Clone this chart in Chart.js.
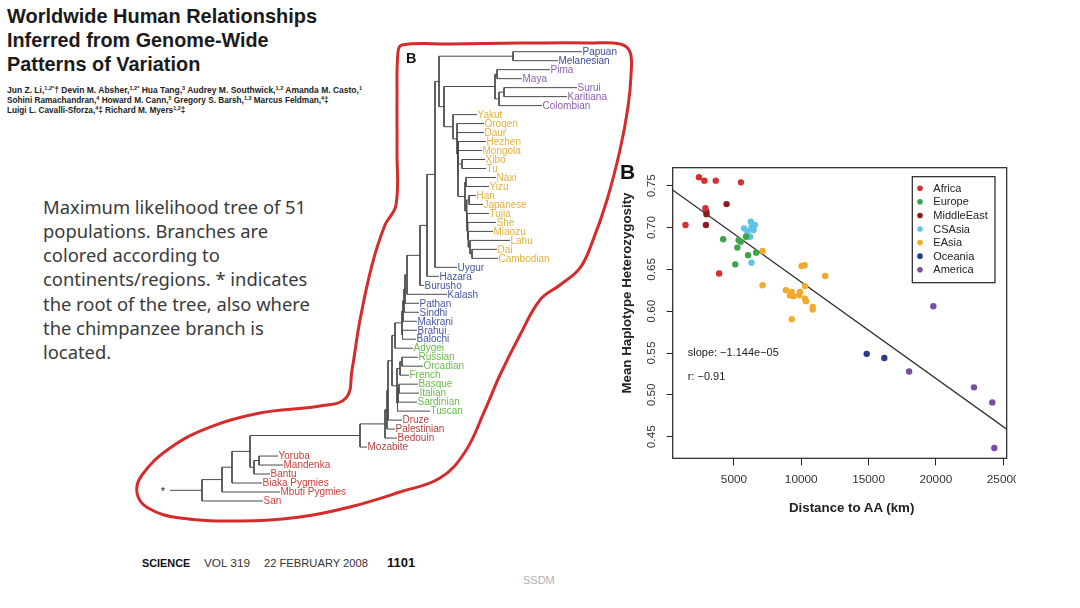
<!DOCTYPE html>
<html>
<head>
<meta charset="utf-8">
<script src="https://cdn.jsdelivr.net/npm/chart.js@4.4.1/dist/chart.umd.min.js"></script>
<style>
  body { margin: 0; background: #fff; }
  #page { position: relative; width: 1080px; height: 608px; overflow: hidden; background: #fff; font-family: "Liberation Sans", Arial, sans-serif; }
  .abs { position: absolute; white-space: nowrap; }
  .fit { display: inline-block; transform-origin: 0 50%; }
  .title { font-weight: bold; font-size: 21px; line-height: 24.3px; color: #1a1a1a; left: 7px; }
  .auth { font-size: 8.4px; line-height: 10px; color: #222; left: 7px; font-weight: bold; }
  .auth sup { font-size: 5.5px; vertical-align: 3px; line-height: 0; }
  .para { font-family: "Noto Sans", "Open Sans", sans-serif; font-size: 16.5px; line-height: 24.3px; color: #3a3a3a; left: 43px; }
  .foot { font-size: 11.5px; line-height: 14px; top: 556px; color: #333; }
</style>
</head>
<body>
<div id="page">
  <span class="abs fit title" id="t1" style="top:4px">Worldwide Human Relationships</span>
  <span class="abs fit title" id="t2" style="top:28px">Inferred from Genome-Wide</span>
  <span class="abs fit title" id="t3" style="top:52px">Patterns of Variation</span>

  <span class="abs fit auth" id="a1" style="top:85px">Jun Z. Li,<sup>1,2*</sup>† Devin M. Absher,<sup>1,2*</sup> Hua Tang,<sup>3</sup> Audrey M. Southwick,<sup>1,2</sup> Amanda M. Casto,<sup>1</sup></span>
  <span class="abs fit auth" id="a2" style="top:95px">Sohini Ramachandran,<sup>4</sup> Howard M. Cann,<sup>5</sup> Gregory S. Barsh,<sup>1,3</sup> Marcus Feldman,<sup>4</sup>‡</span>
  <span class="abs fit auth" id="a3" style="top:105px">Luigi L. Cavalli-Sforza,<sup>4</sup>‡ Richard M. Myers<sup>1,2</sup>‡</span>

  <div class="abs para" id="p1" style="top:194.5px">Maximum likelihood tree of 51</div>
  <div class="abs para" style="top:218.8px">populations. Branches are</div>
  <div class="abs para" style="top:243.1px">colored according to</div>
  <div class="abs para" style="top:267.4px">continents/regions. * indicates</div>
  <div class="abs para" style="top:291.7px">the root of the tree, also where</div>
  <div class="abs para" style="top:316px">the chimpanzee branch is</div>
  <div class="abs para" style="top:340.3px">located.</div>

  <canvas id="treeChart" width="510" height="500" style="position:absolute;left:130px;top:30px"></canvas>
  <div class="abs" style="left:406px;top:50px;font-weight:bold;font-size:14.5px;color:#111">B</div>

  <div class="abs" style="left:620px;top:160px;font-weight:bold;font-size:21px;color:#111">B</div>
  <div style="position:absolute;left:610px;top:150px;width:406px;height:380px;overflow:hidden">
    <canvas id="scatterChart" width="440" height="380"></canvas>
  </div>
  <div class="abs" style="left:477px;top:285px;width:300px;height:16px;line-height:16px;text-align:center;font-weight:bold;font-size:13.3px;color:#222;transform:rotate(-90deg)">Mean Haplotype Heterozygosity</div>
  <div class="abs" style="left:751.7px;top:499.7px;width:200px;line-height:16px;text-align:center;font-weight:bold;font-size:13.3px;color:#222">Distance to AA (km)</div>

  <span class="abs fit foot" id="f1" style="left:141.7px;font-weight:bold;color:#111">SCIENCE</span>
  <span class="abs fit foot" id="f2" style="left:204px">VOL 319</span>
  <span class="abs fit foot" id="f3" style="left:264.3px">22 FEBRUARY 2008</span>
  <span class="abs fit foot" id="f4" style="left:386.7px;font-weight:bold;font-size:12.5px;color:#111">1101</span>
  <div class="abs" style="left:523px;top:574px;font-size:11px;color:#b0b0b0">SSDM</div>
</div>

<script>
// ---------- scatter data (Distance to AA in km, mean haplotype heterozygosity)
const regions = ['Africa', 'Europe', 'MiddleEast', 'CSAsia', 'EAsia', 'Oceania', 'America'];
const regionColors = ['#d62f2f', '#3aa54a', '#8c1c1c', '#5ec3e6', '#f2aa2a', '#283c8c', '#7a4e9e'];
const xTicks = [5000, 10000, 15000, 20000, 25000];
const yTicks = [0.45, 0.50, 0.55, 0.60, 0.65, 0.70, 0.75];

const africaX = [2400, 2800, 3650, 5520, 1400, 3900, 2880];
const africaY = [0.760, 0.756, 0.756, 0.754, 0.703, 0.645, 0.723];
const europeX = [4200, 5350, 5250, 5900, 6050, 6650, 5100, 5500];
const europeY = [0.686, 0.685, 0.676, 0.689, 0.667, 0.670, 0.656, 0.683];
const middleEastX = [4450, 2950, 2920, 2960];
const middleEastY = [0.728, 0.719, 0.703, 0.716];
const csAsiaX = [6250, 6550, 5750, 6000, 6300, 6200, 5950, 6300, 6450];
const csAsiaY = [0.707, 0.703, 0.699, 0.695, 0.700, 0.689, 0.690, 0.658, 0.697];
const eAsiaX = [7130, 10030, 10250, 11780, 7130, 8860, 9290, 9160, 9400, 9900, 9850, 10275, 10350, 10850, 10850, 9290, 10280];
const eAsiaY = [0.672, 0.654, 0.655, 0.642, 0.631, 0.625, 0.623, 0.619, 0.618, 0.623, 0.619, 0.615, 0.612, 0.605, 0.602, 0.5905, 0.630];
const oceaniaX = [14860, 16170];
const oceaniaY = [0.549, 0.544];
const americaX = [19810, 18010, 22830, 24190, 24340];
const americaY = [0.606, 0.528, 0.509, 0.491, 0.4365];

// regression line end points, slope -1.144e-05
const fitX = [450, 25260];
const fitY = [0.7449, 0.4590];

// ---------- tree data
const leafNames = ['Papuan', 'Melanesian', 'Pima', 'Maya', 'Surui', 'Karitiana', 'Colombian',
  'Yakut', 'Oroqen', 'Daur', 'Hezhen', 'Mongola', 'Xibo', 'Tu', 'Naxi', 'Yizu', 'Han', 'Japanese',
  'Tujia', 'She', 'Miaozu', 'Lahu', 'Dai', 'Cambodian',
  'Uygur', 'Hazara', 'Burusho', 'Kalash', 'Pathan', 'Sindhi', 'Makrani', 'Brahui', 'Balochi',
  'Adygei', 'Russian', 'Orcadian', 'French', 'Basque', 'Italian', 'Sardinian', 'Tuscan',
  'Druze', 'Palestinian', 'Bedouin', 'Mozabite',
  'Yoruba', 'Mandenka', 'Bantu', 'Biaka Pygmies', 'Mbuti Pygmies', 'San'];
// 0 Africa, 1 Europe, 2 MiddleEast, 3 CSAsia, 4 EAsia, 5 Oceania, 6 America
const leafRegion = [5, 5, 6, 6, 6, 6, 6,
  4, 4, 4, 4, 4, 4, 4, 4, 4, 4, 4, 4, 4, 4, 4, 4, 4,
  3, 3, 3, 3, 3, 3, 3, 3, 3,
  1, 1, 1, 1, 1, 1, 1, 1,
  2, 2, 2, 2,
  0, 0, 0, 0, 0, 0];
const leafDepth = [382, 358, 350, 322, 377, 367, 342,
  277, 284, 284, 286, 282, 285, 286, 296, 289, 276, 283, 289, 296, 293, 310, 297, 298,
  257, 239, 224, 247, 219, 219, 217, 217, 216,
  213, 218, 223, 209, 218, 219, 217, 230,
  202, 195, 197, 167,
  78, 83, 70, 62, 80, 63];
const labelColors = ['#c9413f', '#6abb4c', '#b3433f', '#4456a6', '#e3b23c', '#3b4a9c', '#8e5fb4'];

// internal nodes: [name, depth, upper child, lower child]
const treeNodes = [
  ['root', 2, 'n22', 'San'],
  ['n22', 22, 'n32', 'Mbuti Pygmies'],
  ['n32', 32, 'n50', 'Biaka Pygmies'],
  ['n50', 50, 'outAfrica', 'n54'],
  ['n54', 54, 'n59', 'Bantu'],
  ['n59', 59, 'Yoruba', 'Mandenka'],
  ['outAfrica', 160, 'n185', 'Mozabite'],
  ['n185', 185, 'n187', 'Bedouin'],
  ['n187', 187, 'n188', 'Palestinian'],
  ['n188', 188, 'n192', 'Druze'],
  ['n192', 192, 'n195', 'europe'],
  ['europe', 197, 'n200', 'n197b'],
  ['n200', 200, 'n202e', 'French'],
  ['n202e', 202, 'Russian', 'Orcadian'],
  ['n197b', 197.5, 'n198', 'Tuscan'],
  ['n198', 198, 'n199', 'Sardinian'],
  ['n199', 199, 'Basque', 'Italian'],
  ['n195', 195, 'csAsia', 'Adygei'],
  ['csAsia', 202, 'n203', 'n202b'],
  ['n202b', 202.5, 'Brahui', 'Balochi'],
  ['n203', 203, 'n204', 'Makrani'],
  ['n204', 204, 'n205', 'Sindhi'],
  ['n205', 205, 'n207', 'Pathan'],
  ['n207', 207, 'n220', 'Kalash'],
  ['n220', 220, 'n227', 'Burusho'],
  ['n227', 227, 'n235', 'Hazara'],
  ['n235', 235, 'n239', 'Uygur'],
  ['n239', 239, 'oceania', 'n244'],
  ['oceania', 313, 'Papuan', 'Melanesian'],
  ['n244', 244, 'america', 'eAsia'],
  ['america', 295, 'n297', 'n299'],
  ['n297', 297, 'Pima', 'Maya'],
  ['n299', 299, 'n304', 'Colombian'],
  ['n304', 304, 'Surui', 'Karitiana'],
  ['eAsia', 253, 'Yakut', 'n257'],
  ['n257', 257, 'Oroqen', 'n257b'],
  ['n257b', 257.5, 'Daur', 'n258'],
  ['n258', 258, 'n258b', 'n265'],
  ['n258b', 258.3, 'n258c', 'n262'],
  ['n258c', 258.5, 'Hezhen', 'Mongola'],
  ['n262', 262, 'Xibo', 'Tu'],
  ['n265', 265, 'n266', 'n266b'],
  ['n266', 266, 'Naxi', 'Yizu'],
  ['n266b', 266.7, 'n269', 'n267'],
  ['n269', 269, 'Han', 'Japanese'],
  ['n267', 267, 'Tujia', 'n267b'],
  ['n267b', 267.7, 'She', 'n268'],
  ['n268', 268.3, 'Miaozu', 'n270'],
  ['n270', 270, 'Lahu', 'n272'],
  ['n272', 272, 'Dai', 'Cambodian']
];
const rootStem = [-30, 2];

// hand drawn red outline around the tree (depth, leaf row)
const outlineD = [320, 390, 420, 430, 431, 428, 420, 407, 393, 380, 360, 340, 320, 300, 285, 265, 240, 200, 150, 100,
  40, -20, -52, -63, -58, -30, 10, 60, 120, 146, 152, 160, 172, 185, 196, 197, 197, 198, 202, 250, 320];
const outlineI = [-0.97, -0.97, -0.86, 0.03, 2.59, 6.15, 10.94, 16.5, 20.97, 24.07, 25.96, 27.63, 31.53, 35.98, 39.87, 44.55, 47.44, 49.0, 50.67, 51.78,
  52.23, 51.9, 50.78, 49.11, 47.11, 44.1, 41.77, 40.21, 39.43, 38.54, 35.42, 29.86, 23.74, 19.29, 17.06, 10.94, 5.38, 0.03, -0.75, -0.86, -0.97];

function pts(xs, ys) {
  return xs.map((x, i) => ({ x: x, y: ys[i] }));
}

// ---------- tree layout
const nodeMap = {};
treeNodes.forEach(n => { nodeMap[n[0]] = n; });

function rowOf(name) {
  const leaf = leafNames.indexOf(name);
  if (leaf >= 0) return leaf;
  const n = nodeMap[name];
  return (rowOf(n[2]) + rowOf(n[3])) / 2;
}
function depthOf(name) {
  const leaf = leafNames.indexOf(name);
  return leaf >= 0 ? leafDepth[leaf] : nodeMap[name][1];
}

const branchPts = [];
treeNodes.forEach(n => {
  const d = n[1];
  const y1 = rowOf(n[2]), y2 = rowOf(n[3]);
  branchPts.push({ x: d, y: y1 }, { x: d, y: y2 }, { x: null, y: null });
  [n[2], n[3]].forEach(c => {
    const yc = rowOf(c);
    branchPts.push({ x: d, y: yc }, { x: depthOf(c), y: yc }, { x: null, y: null });
  });
});
const rootRow = rowOf('root');
branchPts.push({ x: rootStem[0], y: rootRow }, { x: rootStem[1], y: rootRow });

const leafLabelPlugin = {
  id: 'leafLabels',
  afterDatasetsDraw(chart) {
    const ctx = chart.ctx, xs = chart.scales.x, ys = chart.scales.y;
    ctx.save();
    ctx.font = '10px "Liberation Sans", Arial, sans-serif';
    ctx.textBaseline = 'middle';
    leafNames.forEach((name, i) => {
      ctx.fillStyle = labelColors[leafRegion[i]];
      ctx.fillText(name, xs.getPixelForValue(leafDepth[i]) + 0.5, ys.getPixelForValue(i) + 0.5);
    });
    ctx.fillStyle = '#222';
    ctx.font = '11px "Liberation Sans", Arial, sans-serif';
    ctx.textAlign = 'center';
    ctx.fillText('*', xs.getPixelForValue(rootStem[0] - 7), ys.getPixelForValue(rootRow) + 2);
    ctx.restore();
  }
};

new Chart(document.getElementById('treeChart'), {
  type: 'line',
  data: {
    datasets: [
      { label: 'branches', data: branchPts, borderColor: '#4a4a4a', borderWidth: 1, pointRadius: 0, tension: 0, spanGaps: false },
      { label: 'outline', data: pts(outlineD, outlineI), borderColor: '#d42b2b', borderWidth: 3, pointRadius: 0,
        tension: 0.4, borderJoinStyle: 'round', borderCapStyle: 'round', clip: false }
    ]
  },
  options: {
    responsive: false,
    animation: false,
    layout: { padding: 0 },
    plugins: { legend: { display: false }, tooltip: { enabled: false } },
    scales: {
      x: { type: 'linear', display: false, min: -70, max: 440 },
      y: { type: 'linear', display: false, min: -2.415, max: 53.23, reverse: true }
    }
  },
  plugins: [leafLabelPlugin]
});

// ---------- scatter chart
const boxPlugin = {
  id: 'box',
  afterDatasetsDraw(chart) {
    const a = chart.chartArea, ctx = chart.ctx;
    ctx.save();
    ctx.strokeStyle = '#222';
    ctx.lineWidth = 1.2;
    ctx.strokeRect(a.left, a.top, a.right - a.left, a.bottom - a.top);
    ctx.restore();
  }
};

const yLabelPlugin = {
  id: 'yLabels',
  afterDraw(chart) {
    const ctx = chart.ctx, ys = chart.scales.y, a = chart.chartArea;
    ctx.save();
    ctx.font = '11.8px "Liberation Sans", Arial, sans-serif';
    ctx.fillStyle = '#333';
    ctx.textAlign = 'center';
    ctx.textBaseline = 'middle';
    yTicks.forEach(v => {
      ctx.save();
      ctx.translate(a.left - 21, ys.getPixelForValue(v));
      ctx.rotate(-Math.PI / 2);
      ctx.fillText(v.toFixed(2), 0, 0);
      ctx.restore();
    });
    ctx.font = '11px "Liberation Sans", Arial, sans-serif';
    ctx.textAlign = 'left';
    ctx.fillStyle = '#222';
    ctx.fillText('slope: \u22121.144e\u221205', a.left + 15, a.top + 185.6);
    ctx.fillText('r: \u22120.91', a.left + 15, a.top + 209);
    ctx.restore();
  }
};

const legendPlugin = {
  id: 'insideLegend',
  afterDraw(chart) {
    const a = chart.chartArea, ctx = chart.ctx;
    const w = 82.7, h = 106;
    const left = a.right - 11.7 - w, top = a.top + 9;
    ctx.save();
    ctx.fillStyle = '#fff';
    ctx.fillRect(left, top, w, h);
    ctx.strokeStyle = '#222';
    ctx.lineWidth = 1.2;
    ctx.strokeRect(left, top, w, h);
    ctx.font = '11px "Liberation Sans", Arial, sans-serif';
    ctx.textBaseline = 'middle';
    regions.forEach((r, k) => {
      const y = top + 11.6 + k * 13.57;
      ctx.fillStyle = regionColors[k];
      ctx.beginPath();
      ctx.arc(left + 7.7, y, 2.8, 0, Math.PI * 2);
      ctx.fill();
      ctx.fillStyle = '#222';
      ctx.fillText(r, left + 21, y + 0.5);
    });
    ctx.restore();
  }
};

const regionData = [
  pts(africaX, africaY), pts(europeX, europeY), pts(middleEastX, middleEastY),
  pts(csAsiaX, csAsiaY), pts(eAsiaX, eAsiaY), pts(oceaniaX, oceaniaY), pts(americaX, americaY)
];

new Chart(document.getElementById('scatterChart'), {
  type: 'scatter',
  data: {
    datasets: regions.map((r, k) => ({
      label: r,
      data: regionData[k],
      backgroundColor: regionColors[k],
      borderWidth: 0,
      pointRadius: 3.2,
      pointHoverRadius: 3.2
    })).concat([{
      type: 'line',
      label: 'fit',
      data: pts(fitX, fitY),
      borderColor: '#333',
      borderWidth: 1.3,
      pointRadius: 0,
      fill: false
    }])
  },
  options: {
    responsive: false,
    animation: false,
    layout: { padding: { top: 17.7, right: 43.3, left: 0, bottom: 0 } },
    plugins: { legend: { display: false }, tooltip: { enabled: false } },
    scales: {
      x: {
        type: 'linear', min: 450, max: 25260,
        afterBuildTicks: s => { s.ticks = xTicks.map(v => ({ value: v })); },
        afterFit: s => { s.height = 71.7; },
        grid: { display: true, drawOnChartArea: false, drawTicks: true, tickLength: 7, color: '#222' },
        border: { display: false },
        ticks: { color: '#333', font: { family: 'Liberation Sans', size: 11.8 }, padding: 7, maxRotation: 0, callback: v => String(v) }
      },
      y: {
        type: 'linear', min: 0.4242, max: 0.7715,
        afterBuildTicks: s => { s.ticks = yTicks.map(v => ({ value: v })); },
        afterFit: s => { s.width = 62.7; },
        grid: { display: true, drawOnChartArea: false, drawTicks: true, tickLength: 6, color: '#222' },
        border: { display: false },
        ticks: { display: false }
      }
    }
  },
  plugins: [boxPlugin, legendPlugin, yLabelPlugin]
});

// ---------- squeeze the condensed print type to its width
const fitWidths = { t1: 310, t2: 261.6, t3: 193.3, a1: 355, a2: 321.7, a3: 178.3, f1: 48.3, f2: 46, f3: 104, f4: 28.3 };
Object.keys(fitWidths).forEach(id => {
  const el = document.getElementById(id);
  const w = el.getBoundingClientRect().width;
  el.style.transform = 'scaleX(' + (fitWidths[id] / w) + ')';
});

// paragraph: size the font so the first line spans the same width as in the slide
const p1w = document.getElementById('p1').getBoundingClientRect().width;
const paraSize = 16.5 * 263.3 / p1w;
document.querySelectorAll('.para').forEach(el => { el.style.fontSize = paraSize + 'px'; });
</script>
</body>
</html>
